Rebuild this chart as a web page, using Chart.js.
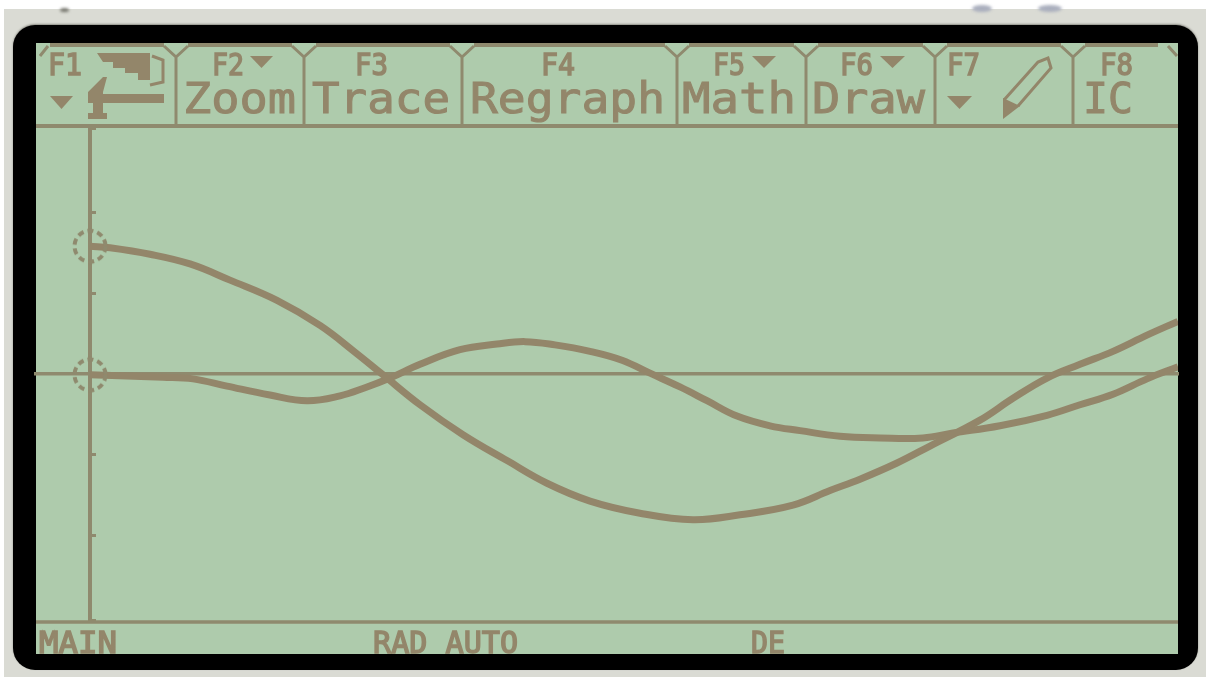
<!DOCTYPE html>
<html>
<head>
<meta charset="utf-8">
<title>Graph screen</title>
<script src="https://cdn.jsdelivr.net/npm/chart.js@4/dist/chart.umd.min.js"></script>
<style>
  html, body { margin: 0; padding: 0; background: #fff; overflow: hidden; }
  #back { position: absolute; left: 4px; top: 9px; width: 1202px; height: 668px; background: #dadbd4; }
  #bezel { position: absolute; left: 13px; top: 25px; width: 1185px; height: 645px; background: #000; border-radius: 22px; box-shadow: 0 -1px 2px #8d8d85; }
  #lcd { position: absolute; left: 36px; top: 43px; width: 1142px; height: 611px; background: #aecbac; }
  .smudge { position: absolute; top: 5px; height: 7px; background: #a9aebd; border-radius: 50%; filter: blur(1.5px); }
  #myChart { position: absolute; left: 0; top: 0; }
</style>
</head>
<body>
<div id="back"></div>
<div class="smudge" style="left:60px;width:9px;height:4px;top:8px;background:#77776f"></div>
<div class="smudge" style="left:972px;width:20px"></div>
<div class="smudge" style="left:1038px;width:24px"></div>
<div id="bezel"></div>
<div id="lcd"></div>
<canvas id="myChart" width="1210" height="677"></canvas>
<script>
var curve1X = [0, 0.2, 0.6, 1, 1.4, 1.87, 2.3, 2.65, 2.93, 3.3, 3.73, 4.17, 4.57, 5, 5.5, 6.03, 6.5, 7.03, 7.4, 7.7, 8.07, 8.4, 8.9, 9.23, 9.57, 9.9, 10.23, 10.57, 10.88];
var curve1Y = [1.58, 1.56, 1.48, 1.36, 1.16, 0.91, 0.6, 0.27, -0.01, -0.38, -0.75, -1.07, -1.35, -1.57, -1.72, -1.8, -1.74, -1.62, -1.44, -1.3, -1.1, -0.89, -0.57, -0.3, -0.05, 0.12, 0.28, 0.48, 0.65];

var curve2X = [0, 0.73, 1.03, 1.37, 1.8, 2.17, 2.5, 2.75, 3, 3.3, 3.7, 4.07, 4.35, 4.65, 5, 5.32, 5.6, 5.9, 6.17, 6.47, 6.8, 7.1, 7.5, 7.9, 8.33, 8.63, 9.1, 9.57, 9.9, 10.23, 10.57, 10.88];
var curve2Y = [-0.01, -0.04, -0.06, -0.15, -0.26, -0.33, -0.27, -0.17, -0.05, 0.12, 0.3, 0.37, 0.4, 0.36, 0.28, 0.17, 0.01, -0.16, -0.33, -0.52, -0.64, -0.7, -0.77, -0.79, -0.79, -0.73, -0.64, -0.51, -0.38, -0.25, -0.06, 0.09];

var menuWords = ['Zoom', 'Trace', 'Regraph', 'Math', 'Draw', 'IC'];
var menuKeys = ['F1', 'F2', 'F3', 'F4', 'F5', 'F6', 'F7', 'F8'];
var statusWords = ['MAIN', 'RAD AUTO', 'DE'];

var INK = '#93866a';
var AXIS = '#8f8a6e';
var FONT = '"DejaVu Sans Mono", monospace';

function toPoints(xs, ys) {
    return xs.map(function (x, i) { return { x: x, y: ys[i] }; });
}

// dotted ring used as the point marker
function makeRing() {
    var c = document.createElement('canvas');
    c.width = 38;
    c.height = 38;
    var g = c.getContext('2d');
    g.strokeStyle = AXIS;
    g.lineWidth = 4;
    g.setLineDash([6, 4]);
    g.beginPath();
    g.arc(19, 19, 15.5, 0, Math.PI * 2);
    g.stroke();
    return c;
}
var ring = makeRing();

function curve(xs, ys) {
    return {
        data: toPoints(xs, ys),
        showLine: true,
        borderColor: INK,
        borderWidth: 7,
        tension: 0.4,
        // only the first point of each curve gets the ring
        pointRadius: function (c) { return c.dataIndex === 0 ? 15 : 0; },
        pointStyle: ring
    };
}

// stretch a word so it fills the given width
function word(ctx, str, x1, x2, base, size, extra) {
    ctx.save();
    ctx.font = size + 'px ' + FONT;
    ctx.textBaseline = 'alphabetic';
    ctx.fillStyle = INK;
    ctx.strokeStyle = INK;
    ctx.lineWidth = extra;
    var w = ctx.measureText(str).width;
    ctx.translate(x1, base);
    ctx.scale((x2 - x1) / w, 1);
    ctx.fillText(str, 0, 0);
    ctx.strokeText(str, 0, 0);
    ctx.restore();
}

function tri(ctx, x1, x2, y1, y2) {
    ctx.beginPath();
    ctx.moveTo(x1, y1);
    ctx.lineTo(x2, y1);
    ctx.lineTo((x1 + x2) / 2, y2);
    ctx.closePath();
    ctx.fill();
}

var screenParts = {
    id: 'screenParts',
    afterDraw: function (chart) {
        var ctx = chart.ctx;
        var dividers = [176, 304, 462, 677, 806, 935, 1073];
        ctx.save();
        ctx.strokeStyle = AXIS;
        ctx.fillStyle = INK;

        // menu top edge, broken at each notch
        ctx.lineWidth = 4;
        var from = 50;
        dividers.concat([1170]).forEach(function (d) {
            ctx.beginPath();
            ctx.moveTo(from, 45);
            ctx.lineTo(d - 12, 45);
            ctx.stroke();
            from = d + 12;
        });
        // notches and dividers
        ctx.lineWidth = 3;
        dividers.forEach(function (d) {
            ctx.beginPath();
            ctx.moveTo(d - 12, 46);
            ctx.lineTo(d, 57);
            ctx.lineTo(d + 12, 46);
            ctx.moveTo(d, 57);
            ctx.lineTo(d, 126);
            ctx.stroke();
        });
        ctx.beginPath();
        ctx.moveTo(48, 46);
        ctx.lineTo(40, 56);
        ctx.moveTo(1168, 46);
        ctx.lineTo(1177, 56);
        ctx.stroke();

        // menu bottom and status bar rules
        ctx.lineWidth = 4;
        ctx.beginPath();
        ctx.moveTo(36, 126);
        ctx.lineTo(1178, 126);
        ctx.stroke();
        ctx.lineWidth = 3.5;
        ctx.beginPath();
        ctx.moveTo(36, 622);
        ctx.lineTo(1178, 622);
        ctx.stroke();
        ctx.restore();

        // small key labels
        var keyX = [[48, 82], [212, 244], [355, 388], [541, 575], [713, 745], [840, 873], [947, 980], [1100, 1133]];
        menuKeys.forEach(function (k, i) { word(ctx, k, keyX[i][0], keyX[i][1], 75, 30, 1.5); });

        // big menu words
        var wordX = [[183, 296], [312, 450], [470, 665], [682, 796], [812, 925], [1083, 1133]];
        menuWords.forEach(function (k, i) { word(ctx, k, wordX[i][0], wordX[i][1], 113, 42, 1); });

        // status bar
        var statusX = [[39, 117], [373, 518], [751, 785]];
        statusWords.forEach(function (k, i) { word(ctx, k, statusX[i][0], statusX[i][1], 653, 31, 1.5); });

        ctx.save();
        ctx.fillStyle = INK;
        ctx.strokeStyle = INK;
        tri(ctx, 250, 273, 56, 68);
        tri(ctx, 752, 776, 56, 68);
        tri(ctx, 880, 905, 56, 68);
        tri(ctx, 50, 73, 96, 109);
        tri(ctx, 947, 972, 96, 109);

        // F1 icons: graph wedge and hammer
        ctx.beginPath();
        ctx.moveTo(97, 53);
        ctx.lineTo(150, 53);
        ctx.lineTo(150, 80);
        ctx.lineTo(138, 80);
        ctx.lineTo(138, 73);
        ctx.lineTo(125, 73);
        ctx.lineTo(125, 68);
        ctx.lineTo(113, 68);
        ctx.lineTo(113, 62);
        ctx.lineTo(103, 62);
        ctx.closePath();
        ctx.fill();
        ctx.lineWidth = 3;
        ctx.beginPath();
        ctx.moveTo(152, 56);
        ctx.lineTo(163, 60);
        ctx.lineTo(163, 82);
        ctx.lineTo(150, 85);
        ctx.stroke();
        ctx.fillRect(92, 94, 72, 9);
        ctx.beginPath();
        ctx.moveTo(88, 92);
        ctx.lineTo(103, 77);
        ctx.lineTo(107, 77);
        ctx.lineTo(103, 92);
        ctx.lineTo(103, 113);
        ctx.lineTo(107, 113);
        ctx.lineTo(107, 119);
        ctx.lineTo(88, 119);
        ctx.lineTo(88, 113);
        ctx.lineTo(93, 113);
        ctx.lineTo(93, 103);
        ctx.lineTo(88, 103);
        ctx.closePath();
        ctx.fill();

        // F7 pencil
        ctx.lineWidth = 3;
        ctx.beginPath();
        ctx.moveTo(1004, 100);
        ctx.lineTo(1038, 62);
        ctx.lineTo(1048, 58);
        ctx.lineTo(1051, 68);
        ctx.lineTo(1018, 106);
        ctx.stroke();
        ctx.beginPath();
        ctx.moveTo(1003, 98);
        ctx.lineTo(1020, 106);
        ctx.lineTo(1003, 119);
        ctx.closePath();
        ctx.fill();
        ctx.restore();
    }
};

var chartArea = document.getElementById('myChart').getContext('2d');

var myChart = new Chart(chartArea, {
    type: 'scatter',
    data: {
        datasets: [curve(curve1X, curve1Y), curve(curve2X, curve2Y)]
    },
    options: {
        responsive: false,
        animation: false,
        layout: { padding: { left: 36, right: 32, top: 128, bottom: 57 } },
        plugins: { legend: { display: false }, title: { display: false }, tooltip: { enabled: false } },
        scales: {
            x: {
                type: 'linear',
                min: -0.54,
                max: 10.88,
                position: { y: 0 },
                ticks: { display: false },
                grid: { display: false },
                border: { display: true, color: AXIS, width: 3.5 }
            },
            y: {
                type: 'linear',
                min: -3.04,
                max: 3.04,
                position: { x: 0 },
                ticks: { display: false, stepSize: 1 },
                grid: { drawOnChartArea: false, drawTicks: true, tickLength: -8, tickWidth: 3, tickColor: AXIS },
                border: { display: true, color: AXIS, width: 4 }
            }
        }
    },
    plugins: [screenParts]
});
</script>
</body>
</html>
